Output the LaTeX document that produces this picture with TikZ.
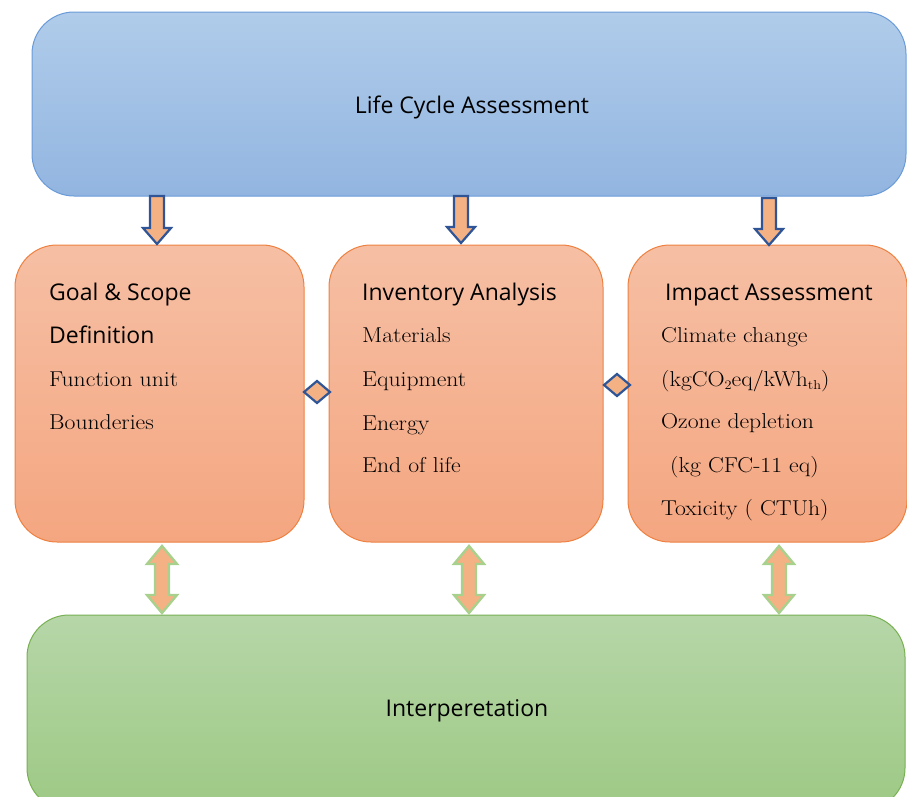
\documentclass[tikz,border=0pt]{standalone}
\usepackage{fontspec}
\newfontfamily\headfont{Open Sans}
\newfontfamily\bodyfont{Latin Modern Roman}[FakeStretch=1.1]
\usetikzlibrary{calc}

\definecolor{lcatop}{HTML}{B0CCEA}
\definecolor{lcabot}{HTML}{92B5E0}
\definecolor{lcaline}{HTML}{6A9BD8}
\definecolor{stagetop}{HTML}{F6BFA4}
\definecolor{stagebot}{HTML}{F4A680}
\definecolor{stageline}{HTML}{EE8140}
\definecolor{inttop}{HTML}{B6D6A8}
\definecolor{intbot}{HTML}{9DC984}
\definecolor{intline}{HTML}{78B052}
\definecolor{arrowfill}{HTML}{F4B183}
\definecolor{arrowblue}{HTML}{2F5597}
\definecolor{arrowgreen}{HTML}{A9D18E}

% block arrow pointing down from #1 to #2
\newcommand\blockdown[2]{%
  \draw[downarrow] ($(#1)+(-7,0)$) -- ($(#2)+(-7,-16)$) -- ($(#2)+(-14,-16)$)
    -- (#2) -- ($(#2)+(14,-16)$) -- ($(#2)+(7,-16)$) -- ($(#1)+(7,0)$) -- cycle;}
% two-headed block arrow between #1 (top) and #2 (bottom)
\newcommand\blockboth[2]{%
  \draw[botharrow] (#1) -- ($(#1)+(15,18)$) -- ($(#1)+(7,18)$) -- ($(#2)+(7,-18)$)
    -- ($(#2)+(15,-18)$) -- (#2) -- ($(#2)+(-15,-18)$) -- ($(#2)+(-7,-18)$)
    -- ($(#1)+(-7,18)$) -- ($(#1)+(-15,18)$) -- cycle;}
% small diamond joint centred on #1
\newcommand\joint[1]{%
  \draw[jointstyle] ($(#1)+(-13,0)$) -- ($(#1)+(0,-11)$) -- ($(#1)+(13,0)$)
    -- ($(#1)+(0,11)$) -- cycle;}
% lowered subscript
\newcommand\lowsub[1]{\raisebox{-0.35ex}{\fontsize{13}{15}\selectfont #1}}

\begin{document}
\begin{tikzpicture}[x=1pt,y=-1pt,
  lcabox/.style={draw=lcaline, line width=1pt, rounded corners=42pt,
    top color=lcatop, bottom color=lcabot, inner sep=0pt},
  stagebox/.style={draw=stageline, line width=1pt, rounded corners=42pt,
    top color=stagetop, bottom color=stagebot, inner sep=0pt},
  intbox/.style={draw=intline, line width=1pt, rounded corners=42pt,
    top color=inttop, bottom color=intbot, inner sep=0pt},
  headtxt/.style={anchor=base west, inner sep=0pt, font=\headfont\fontsize{23}{27}\selectfont},
  bodytxt/.style={anchor=base west, inner sep=0pt, font=\bodyfont\fontsize{21.5}{25}\selectfont},
  titletxt/.style={inner sep=0pt, font=\headfont\fontsize{23}{27}\selectfont},
  downarrow/.style={fill=arrowfill, draw=arrowblue, line width=2.2pt, line join=miter},
  botharrow/.style={fill=arrowfill, draw=arrowgreen, line width=2.4pt, line join=miter},
  jointstyle/.style={fill=arrowfill, draw=arrowblue, line width=2.2pt, line join=miter}]

\useasboundingbox (0,0) rectangle (907,796);
\begin{scope}
\clip (0,0) rectangle (907,796);

% main boxes
\path[lcabox] (32,12) rectangle (906,196);
\node[titletxt] (lca) at (472,107) {Life Cycle Assessment};

\path[stagebox] (15,245) rectangle (304,542);
\path[stagebox] (329,245) rectangle (603,542);
\path[stagebox] (628,245) rectangle (907,542);

\path[intbox] (27,615) rectangle (905,810);
\node[titletxt] (int) at (467,711) {Interperetation};

% Goal & Scope
\node[headtxt] (g1) at (49,300) {Goal \& Scope};
\node[headtxt] (g2) at (49,343) {Definition};
\node[bodytxt] (g3) at (49,386) {Function unit};
\node[bodytxt] (g4) at (49,429) {Bounderies};

% Inventory Analysis
\node[headtxt] (i1) at (362,300) {Inventory Analysis};
\node[bodytxt] (i2) at (362,342) {Materials};
\node[bodytxt] (i3) at (362,386) {Equipment};
\node[bodytxt] (i4) at (362,430) {Energy};
\node[bodytxt] (i5) at (362,472) {End of life};

% Impact Assessment
\node[headtxt] (m1) at (665,300) {Impact Assessment};
\node[bodytxt] (m2) at (661,342) {Climate change};
\node[bodytxt] (m3) at (661,386) {(kgCO\lowsub{2}eq/kWh\lowsub{th})};
\node[bodytxt] (m4) at (661,428) {Ozone depletion};
\node[bodytxt] (m5) at (670,472) {(kg CFC-11 eq)};
\node[bodytxt] (m6) at (661,515) {Toxicity ( CTUh)};

% arrow end points
\coordinate (d1s) at (157,196); \coordinate (d1e) at (157,244);
\coordinate (d2s) at (461,196); \coordinate (d2e) at (461,243);
\coordinate (d3s) at (769,198); \coordinate (d3e) at (769,245);
\coordinate (b1s) at (162,546); \coordinate (b1e) at (162,613);
\coordinate (b2s) at (469,546); \coordinate (b2e) at (469,613);
\coordinate (b3s) at (779,546); \coordinate (b3e) at (779,613);
\coordinate (j1) at (317,392);
\coordinate (j2) at (617,385);

\blockdown{d1s}{d1e}
\blockdown{d2s}{d2e}
\blockdown{d3s}{d3e}
\blockboth{b1s}{b1e}
\blockboth{b2s}{b2e}
\blockboth{b3s}{b3e}
\joint{j1}
\joint{j2}
\end{scope}
\end{tikzpicture}
\end{document}
